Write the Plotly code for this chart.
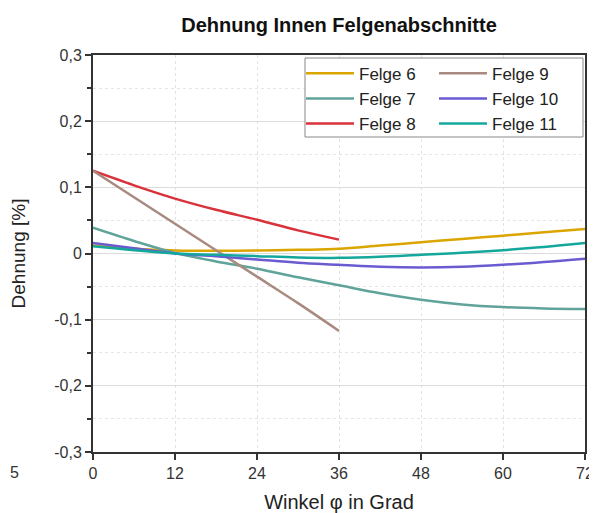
import plotly.graph_objects as go

# ---- data ----
winkel_full = [0, 6, 12, 18, 24, 30, 36, 42, 48, 54, 60, 66, 72]
winkel_half = [0, 6, 12, 18, 24, 30, 36]

felge6 = [0.012, 0.007, 0.0045, 0.004, 0.0045, 0.0055, 0.007, 0.012, 0.017, 0.022, 0.027, 0.032, 0.037]
felge7 = [0.039, 0.019, 0.001, -0.012, -0.023, -0.036, -0.048, -0.060, -0.070, -0.077, -0.081, -0.083, -0.084]
felge8 = [0.125, 0.103, 0.083, 0.066, 0.051, 0.035, 0.021]
felge9 = [0.125, 0.085, 0.045, 0.005, -0.035, -0.075, -0.117]
felge10 = [0.016, 0.008, 0.0, -0.004, -0.009, -0.014, -0.017, -0.020, -0.021, -0.020, -0.017, -0.013, -0.008]
felge11 = [0.011, 0.005, 0.0, -0.002, -0.004, -0.006, -0.0066, -0.005, -0.002, 0.001, 0.005, 0.010, 0.016]

ytick_vals = [-0.3, -0.2, -0.1, 0, 0.1, 0.2, 0.3]
ytick_text = ["-0,3", "-0,2", "-0,1", "0", "0,1", "0,2", "0,3"]
xtick_vals = [0, 12, 24, 36, 48, 60, 72]

series = [
    ("Felge 6", winkel_full, felge6, "#dba500", "legend"),
    ("Felge 7", winkel_full, felge7, "#5fa39a", "legend"),
    ("Felge 8", winkel_half, felge8, "#d9323a", "legend"),
    ("Felge 9", winkel_half, felge9, "#a88a80", "legend2"),
    ("Felge 10", winkel_full, felge10, "#6a5bd0", "legend2"),
    ("Felge 11", winkel_full, felge11, "#14a89d", "legend2"),
]

fig = go.Figure()
for name, xs, ys, col, leg in series:
    fig.add_trace(go.Scatter(
        x=xs, y=ys, name=name, mode="lines",
        line=dict(color=col, width=2.5, shape="spline"),
        legend=leg, cliponaxis=True,
    ))

font = "Liberation Sans, Arial, sans-serif"
legfont = dict(family=font, size=17, color="#222")

# page body adds an 8px offset; figure is sized/margined to compensate
W, H = 589, 505
L, R, T, B = 85, 12, 47, 61
PW, PH = W - L - R, H - T - B

fig.update_layout(
    width=W, height=H,
    margin=dict(l=L, r=R, t=T, b=B, autoexpand=False),
    paper_bgcolor="white", plot_bgcolor="white",
    separators=",.",
    font=dict(family=font, color="#333"),
    title=dict(text="<b>Dehnung Innen Felgenabschnitte</b>",
               x=331 / W, xanchor="center", y=1 - 17 / H, yanchor="middle",
               font=dict(size=20, color="#111", family=font)),
    xaxis=dict(range=[0, 72], tickvals=xtick_vals, automargin=False,
               showline=True, linecolor="#333", linewidth=2, mirror=True,
               ticks="outside", ticklen=6, tickwidth=1.5, tickcolor="#333",
               showgrid=True, gridcolor="#e3e3e3", griddash="dot", gridwidth=1,
               zeroline=False,
               tickfont=dict(size=16, color="#333"),
               title=dict(text="Winkel φ in Grad", font=dict(size=20, color="#222"), standoff=16)),
    yaxis=dict(range=[-0.3, 0.3], tickvals=ytick_vals, ticktext=ytick_text, automargin=False,
               showline=True, linecolor="#333", linewidth=2, mirror=True,
               ticks="outside", ticklen=6, tickwidth=1.5, tickcolor="#333",
               showgrid=True, gridcolor="#dcdcdc", gridwidth=1,
               zeroline=False,
               minor=dict(dtick=0.05, tick0=0, ticks="outside", ticklen=4, tickcolor="#333",
                          showgrid=True, gridcolor="#e6e6e6", griddash="dot"),
               tickfont=dict(size=16, color="#333"),
               title=dict(text="Dehnung [%]", font=dict(size=19, color="#222"), standoff=26)),
    legend=dict(x=(293 - L) / PW, y=0.998, xanchor="left", yanchor="top",
                bgcolor="rgba(0,0,0,0)", borderwidth=0, font=legfont,
                tracegroupgap=0, itemwidth=48),
    legend2=dict(x=(426 - L) / PW, y=0.998, xanchor="left", yanchor="top",
                 bgcolor="rgba(0,0,0,0)", borderwidth=0, font=legfont,
                 tracegroupgap=0, itemwidth=48),
    shapes=[dict(type="rect", xref="paper", yref="paper",
                 x0=(297 - L) / PW, x1=(575 - L) / PW,
                 y0=(H - B - 129) / PH, y1=(H - B - 50) / PH,
                 line=dict(color="#888", width=1), fillcolor="white", layer="above")],
    annotations=[dict(text="5", xref="paper", yref="paper",
                      x=(0 - L) / PW, y=(H - B - 464) / PH,
                      xanchor="left", yanchor="middle", showarrow=False,
                      font=dict(size=16, color="#333"))],
)

fig.write_html("out.html")
